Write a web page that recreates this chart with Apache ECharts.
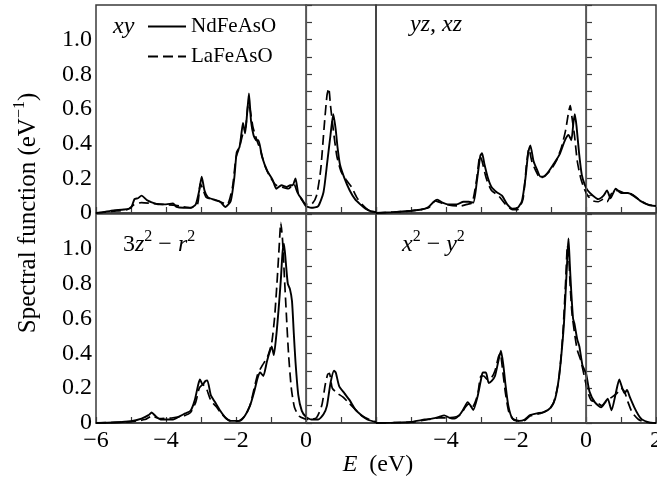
<!DOCTYPE html>
<html><head><meta charset="utf-8">
<script src="https://cdn.jsdelivr.net/npm/echarts@6/dist/echarts.min.js"></script>
<style>html,body{margin:0;padding:0;background:#fff}#c{width:657px;height:482px}</style>
</head><body><div id="c"></div>
<script>
// ---- data (E in eV, spectral function in 1/eV) ----
const xTickLabels = [-6, -4, -2, 0, 2];
const yTickLabels = [0, 0.2, 0.4, 0.6, 0.8, 1.0];
const seriesNames = ['NdFeAsO', 'LaFeAsO'];

const ndXY = [[-6,0],[-5.8,0.005],[-5.5,0.015],[-5.2,0.02],[-5.0,0.03],[-4.9,0.08],[-4.8,0.085],[-4.7,0.10],[-4.55,0.075],[-4.45,0.065],[-4.2,0.05],[-4.0,0.05],[-3.8,0.055],[-3.7,0.035],[-3.5,0.03],[-3.3,0.03],[-3.15,0.05],[-3.05,0.13],[-2.98,0.21],[-2.9,0.13],[-2.8,0.09],[-2.6,0.075],[-2.45,0.065],[-2.3,0.035],[-2.15,0.07],[-2.05,0.2],[-1.98,0.35],[-1.9,0.38],[-1.85,0.45],[-1.8,0.52],[-1.74,0.46],[-1.68,0.58],[-1.63,0.69],[-1.57,0.53],[-1.5,0.45],[-1.42,0.42],[-1.36,0.42],[-1.25,0.32],[-1.1,0.24],[-0.95,0.19],[-0.85,0.14],[-0.7,0.16],[-0.55,0.15],[-0.45,0.16],[-0.38,0.16],[-0.3,0.2],[-0.22,0.11],[-0.12,0.08],[0,0.04],[0.15,0.03],[0.35,0.04],[0.5,0.12],[0.6,0.28],[0.7,0.45],[0.78,0.57],[0.85,0.48],[0.9,0.38],[0.97,0.28],[1.1,0.2],[1.25,0.13],[1.4,0.08],[1.55,0.05],[1.7,0.025],[1.85,0.01],[2,0.005]];
const laXY = [[-6,0],[-5.5,0.01],[-5.1,0.02],[-4.9,0.05],[-4.7,0.06],[-4.4,0.055],[-4.1,0.05],[-3.8,0.045],[-3.6,0.04],[-3.3,0.03],[-3.1,0.05],[-3.02,0.17],[-2.95,0.14],[-2.85,0.09],[-2.6,0.075],[-2.4,0.06],[-2.25,0.05],[-2.1,0.15],[-2.0,0.32],[-1.9,0.38],[-1.8,0.46],[-1.72,0.5],[-1.65,0.63],[-1.6,0.6],[-1.52,0.5],[-1.42,0.43],[-1.3,0.36],[-1.15,0.26],[-1.0,0.2],[-0.85,0.16],[-0.7,0.15],[-0.5,0.14],[-0.35,0.17],[-0.25,0.12],[-0.1,0.07],[0,0.05],[0.15,0.05],[0.3,0.1],[0.42,0.25],[0.52,0.5],[0.6,0.68],[0.65,0.72],[0.7,0.62],[0.78,0.48],[0.88,0.33],[1.0,0.24],[1.15,0.19],[1.3,0.15],[1.45,0.09],[1.6,0.05],[1.8,0.015],[2,0.005]];
const ndYZ = [[-6,0],[-5.5,0.005],[-5,0.013],[-4.7,0.02],[-4.5,0.035],[-4.35,0.065],[-4.25,0.077],[-4.1,0.06],[-3.95,0.05],[-3.7,0.05],[-3.5,0.065],[-3.35,0.065],[-3.22,0.06],[-3.12,0.18],[-3.02,0.33],[-2.97,0.345],[-2.9,0.28],[-2.8,0.2],[-2.7,0.15],[-2.55,0.12],[-2.4,0.1],[-2.25,0.05],[-2.1,0.025],[-1.95,0.03],[-1.83,0.07],[-1.73,0.2],[-1.65,0.35],[-1.59,0.39],[-1.5,0.3],[-1.4,0.25],[-1.3,0.21],[-1.2,0.21],[-1.1,0.23],[-1.0,0.26],[-0.9,0.29],[-0.75,0.34],[-0.6,0.42],[-0.5,0.45],[-0.42,0.42],[-0.36,0.52],[-0.32,0.57],[-0.27,0.5],[-0.2,0.35],[-0.12,0.22],[-0.03,0.16],[0.05,0.13],[0.2,0.1],[0.35,0.08],[0.5,0.1],[0.6,0.13],[0.7,0.085],[0.85,0.14],[1.0,0.115],[1.2,0.115],[1.35,0.1],[1.55,0.07],[1.8,0.045],[2,0.04]];
const laYZ = [[-6,0],[-5,0.012],[-4.5,0.03],[-4.3,0.07],[-4.1,0.055],[-3.9,0.045],[-3.6,0.04],[-3.4,0.05],[-3.25,0.06],[-3.12,0.2],[-3.03,0.33],[-2.97,0.3],[-2.85,0.2],[-2.7,0.13],[-2.5,0.1],[-2.3,0.05],[-2.1,0.02],[-1.95,0.02],[-1.8,0.08],[-1.7,0.28],[-1.63,0.37],[-1.55,0.3],[-1.45,0.25],[-1.3,0.2],[-1.15,0.22],[-1.0,0.25],[-0.85,0.3],[-0.7,0.38],[-0.58,0.48],[-0.5,0.58],[-0.45,0.62],[-0.4,0.55],[-0.33,0.45],[-0.25,0.3],[-0.15,0.2],[-0.05,0.14],[0.05,0.1],[0.2,0.07],[0.35,0.065],[0.5,0.08],[0.6,0.065],[0.75,0.12],[0.9,0.13],[1.1,0.115],[1.3,0.11],[1.5,0.08],[1.75,0.05],[2,0.04]];
const nd3Z = [[-6,0],[-5.5,0.003],[-5.0,0.01],[-4.7,0.025],[-4.5,0.045],[-4.41,0.06],[-4.3,0.04],[-4.15,0.02],[-3.8,0.02],[-3.6,0.04],[-3.45,0.055],[-3.3,0.07],[-3.18,0.13],[-3.08,0.22],[-3.03,0.25],[-2.95,0.22],[-2.88,0.24],[-2.82,0.245],[-2.72,0.16],[-2.6,0.12],[-2.45,0.07],[-2.3,0.03],[-2.15,0.012],[-1.9,0.012],[-1.75,0.04],[-1.6,0.1],[-1.48,0.18],[-1.38,0.26],[-1.31,0.29],[-1.22,0.27],[-1.12,0.35],[-1.05,0.4],[-0.98,0.44],[-0.92,0.39],[-0.85,0.5],[-0.78,0.66],[-0.72,0.82],[-0.67,0.98],[-0.63,1.03],[-0.58,0.93],[-0.52,0.8],[-0.46,0.77],[-0.4,0.7],[-0.35,0.52],[-0.3,0.35],[-0.22,0.16],[-0.12,0.07],[0,0.035],[0.15,0.02],[0.35,0.02],[0.5,0.05],[0.6,0.1],[0.7,0.23],[0.8,0.3],[0.85,0.29],[0.95,0.21],[1.1,0.17],[1.25,0.13],[1.4,0.08],[1.55,0.05],[1.75,0.02],[2,0.005]];
const la3Z = [[-6,0],[-5,0.008],[-4.6,0.02],[-4.4,0.04],[-4.2,0.025],[-3.8,0.03],[-3.5,0.04],[-3.3,0.06],[-3.15,0.12],[-3.05,0.2],[-2.95,0.22],[-2.85,0.2],[-2.72,0.13],[-2.55,0.09],[-2.4,0.05],[-2.2,0.015],[-1.95,0.01],[-1.75,0.04],[-1.6,0.1],[-1.48,0.2],[-1.38,0.28],[-1.25,0.33],[-1.1,0.38],[-0.98,0.46],[-0.9,0.6],[-0.83,0.8],[-0.77,1.0],[-0.72,1.15],[-0.67,1.05],[-0.62,0.85],[-0.56,0.62],[-0.5,0.4],[-0.42,0.2],[-0.33,0.09],[-0.2,0.04],[-0.05,0.025],[0.1,0.02],[0.3,0.03],[0.45,0.1],[0.55,0.22],[0.62,0.28],[0.67,0.285],[0.75,0.2],[0.9,0.17],[1.05,0.15],[1.2,0.12],[1.4,0.08],[1.6,0.04],[2,0.005]];
const ndX2 = [[-6,0],[-5.5,0.002],[-5,0.006],[-4.6,0.02],[-4.4,0.025],[-4.2,0.035],[-4.05,0.044],[-3.9,0.03],[-3.76,0.025],[-3.6,0.05],[-3.5,0.08],[-3.38,0.12],[-3.3,0.1],[-3.22,0.075],[-3.1,0.15],[-3.0,0.25],[-2.95,0.29],[-2.86,0.29],[-2.78,0.23],[-2.7,0.24],[-2.6,0.27],[-2.5,0.36],[-2.43,0.415],[-2.36,0.33],[-2.3,0.22],[-2.22,0.1],[-2.1,0.025],[-1.9,0.012],[-1.75,0.02],[-1.6,0.045],[-1.4,0.055],[-1.2,0.063],[-1.0,0.09],[-0.88,0.14],[-0.78,0.25],[-0.7,0.4],[-0.63,0.57],[-0.57,0.8],[-0.52,1.0],[-0.5,1.06],[-0.46,0.9],[-0.42,0.75],[-0.37,0.6],[-0.33,0.57],[-0.25,0.48],[-0.19,0.44],[-0.1,0.33],[0,0.285],[0.1,0.18],[0.25,0.12],[0.43,0.09],[0.55,0.12],[0.62,0.14],[0.73,0.073],[0.85,0.17],[0.95,0.25],[1.02,0.21],[1.1,0.17],[1.17,0.19],[1.25,0.15],[1.38,0.09],[1.5,0.045],[1.6,0.02],[1.8,0.004],[2,0]];
const laX2 = [[-6,0],[-5,0.005],[-4.5,0.02],[-4.2,0.03],[-3.9,0.03],[-3.6,0.045],[-3.45,0.09],[-3.35,0.11],[-3.25,0.09],[-3.1,0.16],[-3.0,0.27],[-2.92,0.27],[-2.82,0.25],[-2.7,0.26],[-2.6,0.3],[-2.5,0.38],[-2.45,0.4],[-2.38,0.3],[-2.3,0.17],[-2.2,0.06],[-2.05,0.015],[-1.8,0.01],[-1.6,0.04],[-1.3,0.055],[-1.05,0.08],[-0.92,0.12],[-0.8,0.22],[-0.72,0.36],[-0.65,0.55],[-0.58,0.82],[-0.53,1.02],[-0.49,0.95],[-0.45,0.78],[-0.4,0.63],[-0.33,0.52],[-0.25,0.42],[-0.15,0.36],[-0.05,0.27],[0.05,0.18],[0.15,0.13],[0.3,0.12],[0.45,0.1],[0.6,0.13],[0.75,0.15],[0.88,0.17],[1.0,0.2],[1.1,0.18],[1.2,0.12],[1.32,0.06],[1.5,0.02],[1.7,0.005],[2,0]];

const panelData = [[ndXY, laXY], [ndYZ, laYZ], [nd3Z, la3Z], [ndX2, laX2]];

// ---- styling / layout ----
const FONT = '"Liberation Serif","Times New Roman",Times,serif';
const INK = '#000';
const FRAME = '#3a3a3a';
const gridBoxes = [
  {left: 96, top: 5, width: 280, height: 208},
  {left: 376, top: 5, width: 280, height: 208},
  {left: 96, top: 214, width: 280, height: 209},
  {left: 376, top: 214, width: 280, height: 209}
];
const minus = s => String(s).replace('-', '\u2212');

const grid = gridBoxes.map(b => Object.assign({
  show: true, borderColor: FRAME, borderWidth: 1.5, backgroundColor: 'transparent',
  containLabel: false, outerBoundsMode: 'none'
}, b));

const xAxis = gridBoxes.map((b, i) => ({
  type: 'value', gridIndex: i, min: -6, max: 2, interval: 1,
  axisLine: {show: true, lineStyle: {color: FRAME, width: 1.5}},
  axisTick: {show: true, inside: true, length: 6, lineStyle: {color: FRAME, width: 1.2}},
  splitLine: {show: false},
  axisLabel: {
    show: i >= 2, margin: 6, color: INK, fontFamily: FONT, fontSize: 24,
    formatter: v => {
      if (!xTickLabels.includes(v)) return '';
      if (i === 2 && v === 2) return '';
      if (i === 3 && v === -6) return '';
      return minus(v);
    }
  }
}));

const yAxis = gridBoxes.map((b, i) => ({
  type: 'value', gridIndex: i, min: 0, max: 1.2, interval: 0.1,
  axisLine: {show: true, lineStyle: {color: FRAME, width: 1.5}},
  axisTick: {show: true, inside: true, length: 6, lineStyle: {color: FRAME, width: 1.2}},
  splitLine: {show: false},
  axisLabel: {
    show: i % 2 === 0, margin: 4, color: INK, fontFamily: FONT, fontSize: 24,
    formatter: v => {
      const k = Math.round(v * 10);
      const hit = yTickLabels.find(t => Math.round(t * 10) === k);
      if (hit === undefined) return '';
      return k === 0 ? '0' : (k / 10).toFixed(1);
    }
  }
}));

const series = [];
panelData.forEach((pair, i) => {
  pair.forEach((d, j) => {
    series.push({
      name: seriesNames[j], type: 'line', xAxisIndex: i, yAxisIndex: i,
      data: d, symbol: 'none', smooth: 0.2, silent: true, animation: false,
      lineStyle: j === 0 ? {color: INK, width: 1.9, type: 'solid'}
                         : {color: INK, width: 1.7, type: [10, 5]},
      itemStyle: {color: INK},
      markLine: j === 0 ? {
        silent: true, symbol: ['none', 'none'], label: {show: false}, animation: false,
        lineStyle: {color: '#555', width: 1.2, type: 'solid'},
        data: [{xAxis: 0}]
      } : undefined
    });
  });
});

const sup = {fontFamily: FONT, fontSize: 16, lineHeight: 16, verticalAlign: 'top', fill: INK, color: INK};
const nrm = {fontFamily: FONT, fontSize: 24, lineHeight: 32, fill: INK, color: INK};
const ita = {fontFamily: FONT, fontSize: 24, lineHeight: 32, fontStyle: 'italic', fill: INK, color: INK};

const graphic = [
  {type: 'text', x: 28, y: 213, rotation: Math.PI / 2, silent: true,
   style: {text: '{a|Spectral function (eV}{s|\u22121}{a|)}', align: 'center', verticalAlign: 'middle',
           textAlign: 'center', textVerticalAlign: 'middle',
           rich: {a: Object.assign({}, nrm, {fontSize: 25}), s: sup}}},
  {type: 'text', x: 378, y: 465, silent: true,
   style: {text: '{i|E}{n|  (eV)}', align: 'center', verticalAlign: 'middle',
           textAlign: 'center', textVerticalAlign: 'middle', rich: {i: ita, n: nrm}}},
  {type: 'text', x: 113, y: 27, silent: true,
   style: {text: '{i|xy}', verticalAlign: 'middle', textVerticalAlign: 'middle', rich: {i: ita}}},
  {type: 'text', x: 410, y: 25, silent: true,
   style: {text: '{i|yz, xz}', verticalAlign: 'middle', textVerticalAlign: 'middle', rich: {i: ita}}},
  {type: 'text', x: 123, y: 245, silent: true,
   style: {text: '{n|3}{i|z}{s|2}{n| \u2212 }{i|r}{s|2}', verticalAlign: 'middle', textVerticalAlign: 'middle',
           rich: {n: nrm, i: ita, s: sup}}},
  {type: 'text', x: 402, y: 245, silent: true,
   style: {text: '{i|x}{s|2}{n| \u2212 }{i|y}{s|2}', verticalAlign: 'middle', textVerticalAlign: 'middle',
           rich: {n: nrm, i: ita, s: sup}}}
];

const chart = echarts.init(document.getElementById('c'), null, {renderer: 'canvas'});
chart.setOption({
  animation: false,
  backgroundColor: '#fff',
  grid, xAxis, yAxis, series, graphic,
  legend: {
    show: true, orient: 'vertical', left: 147, top: 16, padding: 0,
    itemWidth: 38, itemHeight: 12, itemGap: 9, selectedMode: false,
    itemStyle: {opacity: 0, borderWidth: 0},
    data: seriesNames,
    textStyle: {fontFamily: FONT, fontSize: 21, color: INK}
  },
  tooltip: {show: false}
});
</script>
</body></html>
